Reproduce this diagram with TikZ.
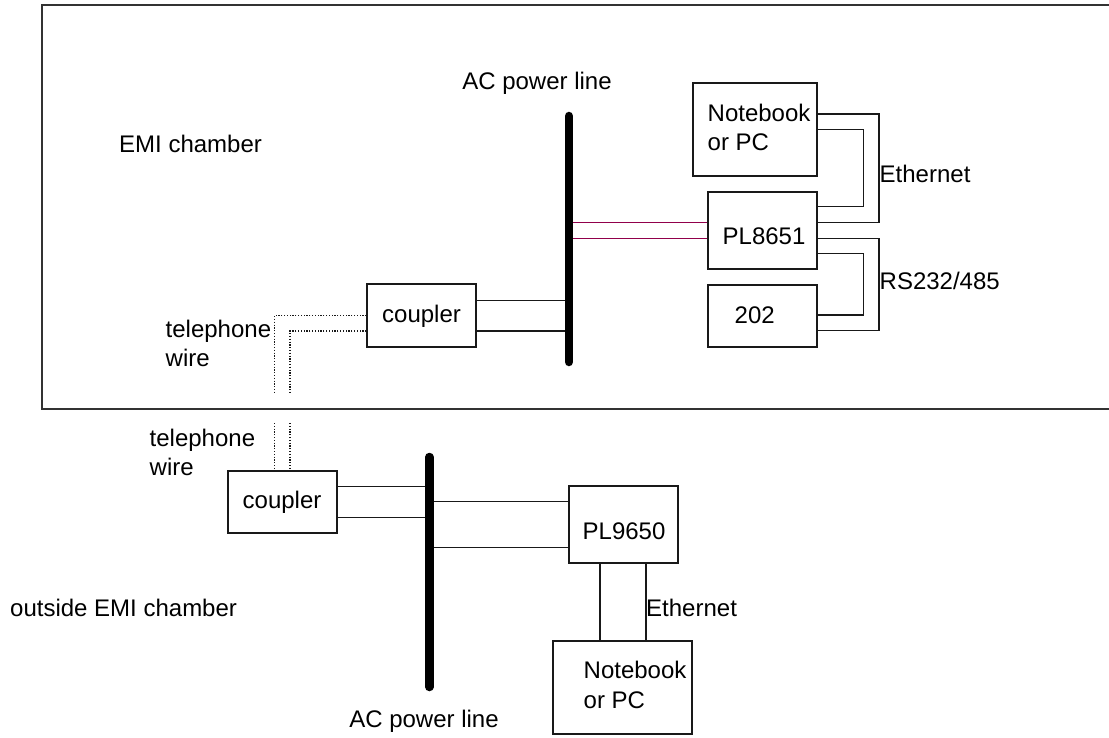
\documentclass[tikz,border=0pt]{standalone}
\usepackage{fontspec}
\setmainfont{Liberation Sans}
\definecolor{wire}{RGB}{25,25,25}
\definecolor{frame}{RGB}{50,50,50}
\definecolor{pwr}{RGB}{145,0,75}
\begin{document}
\begin{tikzpicture}[x=1pt,y=-1pt,
  box/.style={draw=wire,line width=1.4pt,inner sep=0pt,rectangle},
  txt/.style={inner sep=0pt,anchor=base west,font=\fontsize{24}{29.5}\selectfont,align=left},
  txtc/.style={txt,anchor=base},
  cable/.style={draw=wire,line width=1.4pt},
  pcable/.style={draw=pwr,line width=1.4pt},
  dotwire/.style={draw=wire,line width=1.2pt,dash pattern=on 1.2pt off 1.6pt},
  bar/.style={draw=black,line width=8.5pt,line cap=round},
  chamberframe/.style={draw=frame,line width=2pt}]
\useasboundingbox (0,0) rectangle (1109,738);

% EMI chamber outline (right side beyond the page)
\draw[chamberframe] (1115,5.5) -- (42,5.5) -- (42,409) -- (1115,409);

% boxes
\node[box,minimum width=124pt,minimum height=93pt] (nb1) at (755,129.5) {};
\node[box,minimum width=109pt,minimum height=77pt] (pl8) at (762.5,230.5) {};
\node[box,minimum width=109pt,minimum height=62pt] (d202) at (762.5,316) {};
\node[box,minimum width=109pt,minimum height=63pt] (cp1) at (421.5,315.5) {};
\node[box,minimum width=109pt,minimum height=62pt] (cp2) at (282.5,502) {};
\node[box,minimum width=109pt,minimum height=77pt] (pl9) at (623.5,524.5) {};
\node[box,minimum width=139pt,minimum height=93pt] (nb2) at (622.5,687.5) {};

% power line bars
\coordinate (b1t) at (569,116);
\coordinate (b1b) at (569,362);
\coordinate (b2t) at (429.3,457);
\coordinate (b2b) at (429.3,687);

% PL8651 to top power line (magenta)
\coordinate (m1) at ([yshift=7.8pt]pl8.west);
\coordinate (m2) at ([yshift=-7.8pt]pl8.west);
\draw[pcable] (m1) -- (m1 -| b1t);
\draw[pcable] (m2) -- (m2 -| b1t);

% top coupler to power line
\coordinate (c1a) at ([yshift=15.2pt]cp1.east);
\coordinate (c1b) at ([yshift=-15.5pt]cp1.east);
\draw[cable] (c1a) -- (c1a -| b1t);
\draw[cable] (c1b) -- (c1b -| b1t);

\draw[bar] (b1t) -- (b1b);

% Ethernet top: Notebook <-> PL8651
\coordinate (e1a) at ([yshift=15.5pt]nb1.east);
\coordinate (e1b) at ([yshift=0.2pt]nb1.east);
\coordinate (e1c) at ([yshift=8.2pt]pl8.east);
\coordinate (e1d) at ([yshift=23.8pt]pl8.east);
\draw[cable] (e1a) -- (879,114) |- (e1c);
\draw[cable] (e1b) -- (863.3,129.3) |- (e1d);

% RS232/485: PL8651 <-> 202
\coordinate (r1a) at ([yshift=-7.8pt]pl8.east);
\coordinate (r1b) at ([yshift=-22.8pt]pl8.east);
\coordinate (r1c) at ([yshift=-14.7pt]d202.east);
\coordinate (r1d) at ([yshift=1pt]d202.east);
\draw[cable] (r1a) -- (879,238.3) |- (r1c);
\draw[cable] (r1b) -- (863.3,253.3) |- (r1d);

% telephone wire (inside)
\coordinate (t1a) at ([yshift=-0.2pt]cp1.west);
\coordinate (t1b) at ([yshift=-15.5pt]cp1.west);
\coordinate (t1e) at (274.3,393.3);
\coordinate (t1f) at (290,393.3);
\draw[dotwire] (t1a) -| (t1e);
\draw[dotwire] (t1b) -| (t1f);

% telephone wire (outside)
\coordinate (t2a) at (274.3,423);
\coordinate (t2b) at (290,423);
\draw[dotwire] (t2a) -- (t2a |- cp2.north);
\draw[dotwire] (t2b) -- (t2b |- cp2.north);

% lower coupler to power line
\coordinate (c2a) at ([yshift=15.3pt]cp2.east);
\coordinate (c2b) at ([yshift=-15.3pt]cp2.east);
\draw[cable] (c2a) -- (c2a -| b2t);
\draw[cable] (c2b) -- (c2b -| b2t);

% power line to PL9650
\coordinate (p9a) at ([yshift=22.8pt]pl9.west);
\coordinate (p9b) at ([yshift=-23.2pt]pl9.west);
\draw[cable] (p9a -| b2t) -- (p9a);
\draw[cable] (p9b -| b2t) -- (p9b);

\draw[bar] (b2t) -- (b2b);

% Ethernet lower: PL9650 <-> Notebook
\coordinate (q1) at (600,563);
\coordinate (q2) at (646,563);
\draw[cable] (q1 |- pl9.south) -- (q1 |- nb2.north);
\draw[cable] (q2 |- pl9.south) -- (q2 |- nb2.north);

% texts (multi-line nodes: base = last line)
\node[txtc] (acTop) at (537,90) {AC power line};
\node[txt] (emi) at (119,153) {EMI chamber};
\node[txt] (outemi) at (10,616) {outside EMI chamber};
\node[txt] (tel1) at (165.5,366.7) {telephone\\wire};
\node[txt] (tel2) at (149.5,475.7) {telephone\\wire};
\node[txt] (nb1t) at (707.5,150.7) {Notebook\\or PC};
\node[txt] (pl8t) at (722.5,245) {PL8651};
\node[txt] (eth1) at (879.5,182.7) {Ethernet};
\node[txt] (rs) at (879.5,290) {RS232/485};
\node[txt] (d202t) at (734.5,323.3) {202};
\node[txt] (cp1t) at (382,322.7) {coupler};
\node[txt] (cp2t) at (242.5,508.7) {coupler};
\node[txt] (pl9t) at (582.5,539.3) {PL9650};
\node[txt] (nb2t) at (583.5,708.3) {Notebook\\or PC};
\node[txt] (eth2) at (646,616) {Ethernet};
\node[txtc] (acBot) at (424,727.3) {AC power line};
\end{tikzpicture}
\end{document}
